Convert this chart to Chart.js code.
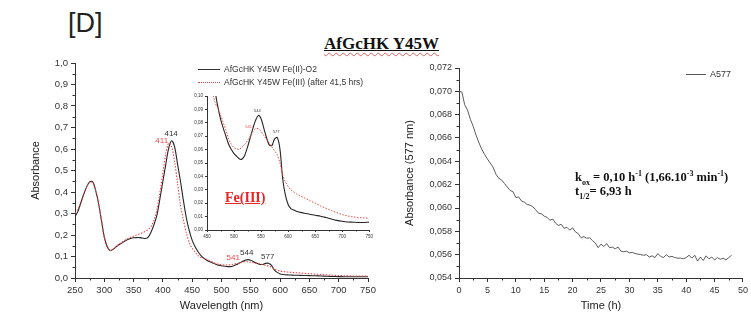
<!DOCTYPE html>
<html>
<head>
<meta charset="utf-8">
<script src="https://cdn.jsdelivr.net/npm/chart.js@4.4.1/dist/chart.umd.min.js"></script>
<style>
    body { margin: 0; width: 751px; height: 320px; overflow: hidden; background: #fff; position: relative;
           font-family: "Liberation Sans", Arial, sans-serif; color: #333; }
    canvas { position: absolute; }
    .txt { position: absolute; white-space: nowrap; }
    .serif { font-family: "Liberation Serif", "Times New Roman", serif; font-weight: bold; }
    .swatch { display: inline-block; width: 22px; vertical-align: middle; margin-right: 4px; }
    .kin sub, .kin sup { font-size: 8px; line-height: 0; }
</style>
</head>
<body>
<div class="txt" style="left:68px; top:8px; font-size:27px; color:#222;">[D]</div>
<div class="txt serif" style="left:324px; top:34px; font-size:17px; color:#111; text-decoration:underline;">
    <span style="text-decoration:underline wavy #e06060; text-underline-offset:3px; text-decoration-thickness:1px;">AfGcHK Y45W</span>
</div>

<canvas id="spectrum" width="380" height="270" style="left:0; top:50px;"></canvas>
<canvas id="inset" width="195" height="155" style="left:180px; top:90px;"></canvas>
<canvas id="kinetic" width="371" height="270" style="left:380px; top:50px;"></canvas>

<!-- legend of the spectrum chart -->
<div class="txt" style="left:198px; top:64px; font-size:8.5px;">
    <span class="swatch" style="border-top:1px solid #333;"></span>AfGcHK Y45W Fe(II)-O2</div>
<div class="txt" style="left:198px; top:77px; font-size:8.5px;">
    <span class="swatch" style="border-top:1px dotted #f04848;"></span>AfGcHK Y45W Fe(III) (after 41,5 hrs)</div>

<div class="txt serif" style="left:225px; top:190px; font-size:14px; color:#ee2222; text-decoration:underline;">Fe(III)</div>

<!-- legend + annotation of the kinetic chart -->
<div class="txt" style="left:686px; top:69px; font-size:9px;">
    <span class="swatch" style="width:20px; border-top:1px solid #555;"></span>A577</div>
<div class="txt serif kin" style="left:575px; top:170px; font-size:12.5px; color:#111; line-height:14px;">
    k<sub>ox</sub> = 0,10 h<sup>-1</sup> (1,66.10<sup>-3</sup> min<sup>-1</sup>)<br>
    t<sub>1/2</sub>= 6,93 h
</div>

<script>
// ---- spectra (nm / absorbance) ----
const wavelengths = [250, 255, 260, 265, 270, 275, 280, 285, 290, 295, 300, 305, 310, 315, 320, 325, 330, 335, 340, 345,
    350, 355, 360, 365, 370, 375, 380, 385, 390, 395, 400, 405, 410, 415, 420, 425, 430, 435, 440, 445,
    450, 455, 460, 465, 470, 475, 480, 485, 490, 495, 500, 505, 510, 515, 520, 525, 530, 535, 540, 545,
    550, 555, 560, 565, 570, 575, 580, 585, 590, 595, 600, 605, 610, 615, 620, 630, 640, 650, 660, 670,
    680, 690, 700, 710, 720, 730, 740, 750];

const absFe2O2 = [0.285, 0.31, 0.35, 0.39, 0.425, 0.447, 0.448, 0.41, 0.35, 0.27, 0.19, 0.145, 0.128, 0.133, 0.145, 0.155, 0.163, 0.172, 0.179, 0.184,
    0.187, 0.188, 0.188, 0.186, 0.184, 0.19, 0.215, 0.25, 0.295, 0.37, 0.45, 0.53, 0.605, 0.638, 0.61, 0.53, 0.45, 0.36, 0.28, 0.22,
    0.175, 0.145, 0.122, 0.104, 0.092, 0.083, 0.076, 0.070, 0.064, 0.060, 0.057, 0.055, 0.053, 0.053, 0.056, 0.062, 0.069, 0.076, 0.082, 0.0855,
    0.083, 0.076, 0.069, 0.0635, 0.063, 0.068, 0.069, 0.060, 0.038, 0.026, 0.019, 0.016, 0.015, 0.014, 0.0135, 0.0125, 0.0118, 0.011, 0.0103, 0.0093,
    0.0082, 0.0072, 0.0065, 0.006, 0.0058, 0.0056, 0.0056, 0.0058];

const absFe3 = [0.302, 0.32, 0.35, 0.39, 0.423, 0.445, 0.445, 0.41, 0.35, 0.27, 0.19, 0.145, 0.128, 0.134, 0.146, 0.157, 0.166, 0.175, 0.183, 0.19,
    0.195, 0.2, 0.205, 0.21, 0.217, 0.226, 0.24, 0.27, 0.32, 0.40, 0.49, 0.58, 0.628, 0.61, 0.54, 0.44, 0.34, 0.27, 0.21, 0.165,
    0.138, 0.12, 0.104, 0.095, 0.091, 0.086, 0.080, 0.0745, 0.068, 0.064, 0.0615, 0.0605, 0.0603, 0.062, 0.064, 0.067, 0.070, 0.0735, 0.0758, 0.0755,
    0.0735, 0.0705, 0.068, 0.065, 0.062, 0.059, 0.056, 0.050, 0.041, 0.036, 0.0325, 0.030, 0.0285, 0.027, 0.026, 0.024, 0.022, 0.020, 0.018, 0.0162,
    0.0145, 0.013, 0.0115, 0.0105, 0.0098, 0.0093, 0.009, 0.0088];

// ---- A577 kinetics (h / absorbance) ----
const timeHours = [0, 0.5, 1, 1.5, 2, 2.5, 3, 3.5, 4, 4.5, 5, 5.5, 6, 6.5, 7, 7.5, 8, 8.5, 9, 9.5,
    10, 10.5, 11, 11.5, 12, 12.5, 13, 13.5, 14, 14.5, 15, 15.5, 16, 16.5, 17, 17.5, 18, 18.5, 19, 19.5,
    20, 20.5, 21, 21.5, 22, 22.5, 23, 23.5, 24, 24.5, 25, 25.5, 26, 26.5, 27, 27.5, 28, 28.5, 29, 29.5,
    30, 30.5, 31, 31.5, 32, 32.5, 33, 33.5, 34, 34.5, 35, 35.5, 36, 36.5, 37, 37.5, 38, 38.5, 39, 39.5,
    40, 40.5, 41, 41.5, 42, 42.5, 43, 43.5, 44, 44.5, 45, 45.5, 46, 46.5, 47, 47.5, 48];

const a577 = [0.07000, 0.06995, 0.06885, 0.06840, 0.06760, 0.06700, 0.06625, 0.06560, 0.06505, 0.06460,
    0.06420, 0.06385, 0.06350, 0.06290, 0.06255, 0.06240, 0.06210, 0.06180, 0.06150, 0.06140,
    0.06090, 0.06095, 0.06060, 0.06050, 0.06030, 0.06025, 0.06010, 0.05985, 0.05955, 0.05950,
    0.05930, 0.05920, 0.05895, 0.05905, 0.05870, 0.05850, 0.05860, 0.05825, 0.05835, 0.05810,
    0.05830, 0.05795, 0.05780, 0.05745, 0.05755, 0.05740, 0.05745, 0.05720, 0.05700, 0.05660,
    0.05690, 0.05670, 0.05695, 0.05660, 0.05665, 0.05650, 0.05665, 0.05630, 0.05625, 0.05630,
    0.05615, 0.05620, 0.05610, 0.05605, 0.05600, 0.05595, 0.05600, 0.05580, 0.05590, 0.05575,
    0.05610, 0.05585, 0.05575, 0.05600, 0.05580, 0.05585, 0.05575, 0.05570, 0.05570, 0.05565,
    0.05575, 0.05595, 0.05570, 0.05595, 0.05545, 0.05580, 0.05550, 0.05590, 0.05565, 0.05580,
    0.05555, 0.05575, 0.05560, 0.05570, 0.05555, 0.05575, 0.05595];

const BLACK = '#262626';
const RED = '#f04848';
const AXIS = '#333';

const toPoints = (xs, ys) => xs.map((x, i) => ({ x: x, y: ys[i] }));
const comma = (v, d) => Number(v).toFixed(d).replace('.', ',');

// small unlabeled ticks half way between the major ones
const minorTicks = {
    id: 'minorTicks',
    afterDraw(chart, args, opts) {
        const ctx = chart.ctx;
        const area = chart.chartArea;
        ctx.save();
        ctx.strokeStyle = AXIS;
        ctx.lineWidth = 1;
        ['x', 'y'].forEach(key => {
            const step = opts[key];
            if (!step) return;
            const sc = chart.scales[key];
            const n = Math.round((sc.max - sc.min) / step);
            for (let i = 1; i < n; i += 2) {
                const p = Math.round(sc.getPixelForValue(sc.min + i * step)) + 0.5;
                ctx.beginPath();
                if (key === 'x') {
                    ctx.moveTo(p, area.bottom);
                    ctx.lineTo(p, area.bottom + opts.len);
                } else {
                    ctx.moveTo(area.left, p);
                    ctx.lineTo(area.left - opts.len, p);
                }
                ctx.stroke();
            }
        });
        ctx.restore();
    }
};

// peak wavelength labels, anchored in data units
const peakLabels = {
    id: 'peakLabels',
    afterDatasetsDraw(chart, args, opts) {
        const ctx = chart.ctx;
        ctx.save();
        ctx.font = opts.size + 'px "Liberation Sans", Arial, sans-serif';
        ctx.textAlign = 'center';
        ctx.textBaseline = 'middle';
        (opts.items || []).forEach(it => {
            ctx.fillStyle = it.color;
            ctx.fillText(it.text, chart.scales.x.getPixelForValue(it.x), chart.scales.y.getPixelForValue(it.y));
        });
        ctx.restore();
    }
};

function axis(opts) {
    return Object.assign({
        type: 'linear',
        border: { color: AXIS, width: 1 },
        grid: { display: true, drawOnChartArea: false, color: AXIS, tickLength: 4 },
        ticks: { color: AXIS, font: { size: 9, family: '"Liberation Sans", Arial, sans-serif' }, padding: 2 }
    }, opts);
}

function lineSet(label, data, color, dashed, width, tension) {
    return {
        label: label,
        data: data,
        borderColor: color,
        borderWidth: width,
        borderDash: dashed ? [1.5, 1.5] : [],
        pointRadius: 0,
        tension: tension,
        fill: false
    };
}

const base = {
    responsive: false,
    animation: false,
    devicePixelRatio: 1,
    plugins: { legend: { display: false }, tooltip: { enabled: false } }
};

const fe2Points = toPoints(wavelengths, absFe2O2);
const fe3Points = toPoints(wavelengths, absFe3);

// main spectrum
new Chart(document.getElementById('spectrum'), {
    type: 'line',
    data: {
        datasets: [
            lineSet('AfGcHK Y45W Fe(III) (after 41,5 hrs)', fe3Points, RED, true, 1.1, 0.3),
            lineSet('AfGcHK Y45W Fe(II)-O2', fe2Points, BLACK, false, 1.1, 0.3)
        ]
    },
    options: Object.assign({}, base, {
        layout: { padding: { top: 13, right: 12, left: 0, bottom: 0 } },
        scales: {
            x: axis({
                min: 250, max: 750,
                afterFit: s => { s.height = 42; },
                ticks: { color: AXIS, font: { size: 9.5 }, padding: 3, stepSize: 50, maxRotation: 0 },
                title: { display: true, text: 'Wavelength (nm)', color: '#222', font: { size: 11 }, padding: { top: 0, bottom: 7 } }
            }),
            y: axis({
                min: 0, max: 1,
                afterFit: s => { s.width = 75; },
                ticks: { color: AXIS, font: { size: 9.5 }, padding: 3, stepSize: 0.1, callback: v => comma(v, 1) },
                title: { display: true, text: 'Absorbance', color: '#222', font: { size: 11 }, padding: { top: 29, bottom: 0 } }
            })
        },
        plugins: Object.assign({}, base.plugins, {
            minorTicks: { x: 25, y: 0.05, len: 2.5 },
            peakLabels: {
                size: 8,
                items: [
                    { text: '414', x: 414, y: 0.67, color: '#333' },
                    { text: '411', x: 398, y: 0.637, color: RED },
                    { text: '544', x: 543, y: 0.116, color: '#333' },
                    { text: '541', x: 520, y: 0.093, color: RED },
                    { text: '577', x: 579, y: 0.098, color: '#333' }
                ]
            }
        })
    }),
    plugins: [minorTicks, peakLabels]
});

// zoomed inset, 450-750 nm
new Chart(document.getElementById('inset'), {
    type: 'line',
    data: {
        datasets: [
            lineSet('Fe(III)', fe3Points, RED, true, 1, 0.3),
            lineSet('Fe(II)-O2', fe2Points, BLACK, false, 1.1, 0.3)
        ]
    },
    options: Object.assign({}, base, {
        layout: { padding: { top: 6, right: 5, left: 0, bottom: 0 } },
        scales: {
            x: axis({
                min: 450, max: 750,
                afterFit: s => { s.height = 15; },
                grid: { display: true, drawOnChartArea: false, color: AXIS, tickLength: 2 },
                ticks: { color: AXIS, font: { size: 4.5 }, padding: 2, stepSize: 50, maxRotation: 0 }
            }),
            y: axis({
                min: 0, max: 0.1,
                afterFit: s => { s.width = 27; },
                grid: { display: true, drawOnChartArea: false, color: AXIS, tickLength: 2 },
                ticks: { color: AXIS, font: { size: 4.5 }, padding: 2, stepSize: 0.01, callback: v => comma(v, 2) }
            })
        },
        plugins: Object.assign({}, base.plugins, {
            minorTicks: { x: 25, len: 1.5 },
            peakLabels: {
                size: 4,
                items: [
                    { text: '544', x: 543, y: 0.0886, color: '#333' },
                    { text: '541', x: 527, y: 0.0769, color: RED },
                    { text: '577', x: 578, y: 0.0729, color: '#333' }
                ]
            }
        })
    }),
    plugins: [minorTicks, peakLabels]
});

// A577 decay
new Chart(document.getElementById('kinetic'), {
    type: 'line',
    data: {
        datasets: [lineSet('A577', toPoints(timeHours, a577), '#4a4a4a', false, 0.9, 0)]
    },
    options: Object.assign({}, base, {
        layout: { padding: { top: 18, right: 7, left: 0, bottom: 0 } },
        scales: {
            x: axis({
                min: 0, max: 50,
                afterFit: s => { s.height = 42; },
                ticks: { color: AXIS, font: { size: 9 }, padding: 3, stepSize: 5, maxRotation: 0 },
                title: { display: true, text: 'Time (h)', color: '#222', font: { size: 11 }, padding: { top: 0, bottom: 7 } }
            }),
            y: axis({
                min: 0.054, max: 0.072,
                afterFit: s => { s.width = 79; },
                ticks: { color: AXIS, font: { size: 9 }, padding: 3, stepSize: 0.002, callback: v => comma(v, 3) },
                title: { display: true, text: 'Absorbance (577 nm)', color: '#222', font: { size: 11 }, padding: { top: 23, bottom: 0 } }
            })
        },
        plugins: Object.assign({}, base.plugins, {
            minorTicks: { x: 2.5, y: 0.001, len: 2.5 }
        })
    }),
    plugins: [minorTicks]
});
</script>
</body>
</html>
